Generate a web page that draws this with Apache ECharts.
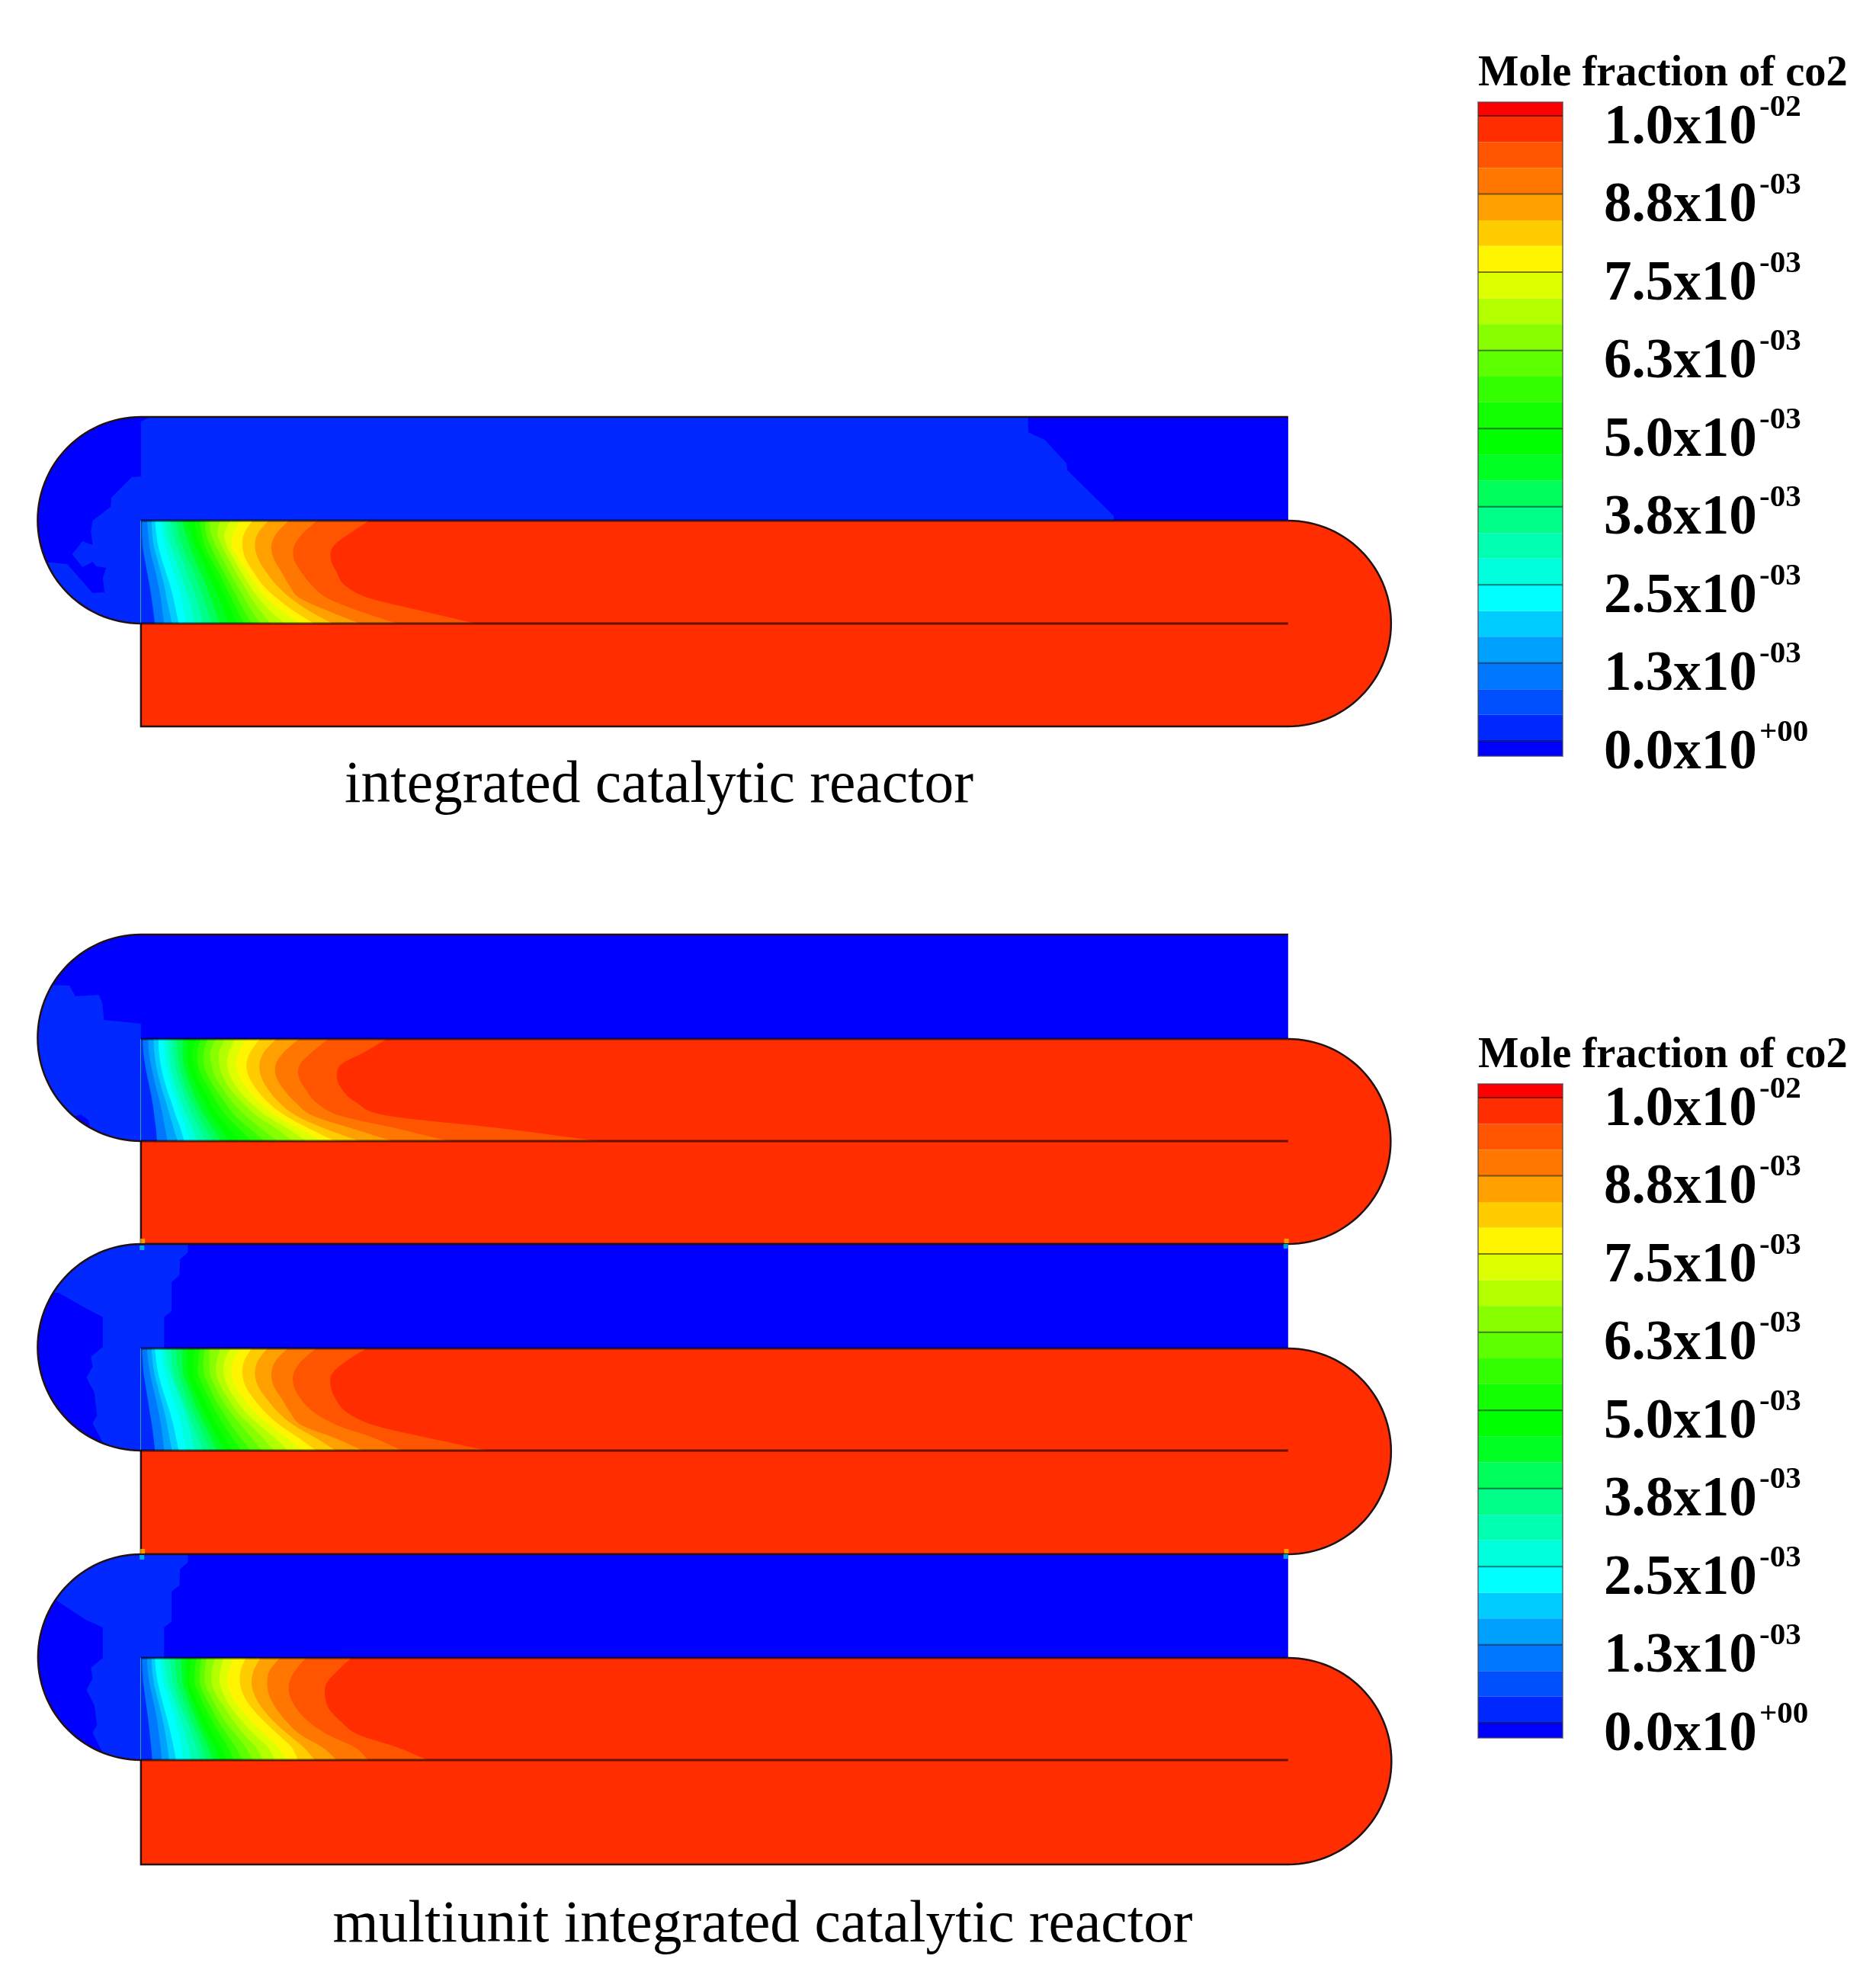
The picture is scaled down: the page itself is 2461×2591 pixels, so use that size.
<!DOCTYPE html>
<html>
<head>
<meta charset="utf-8">
<title>Mole fraction of co2</title>
<style>
  html, body { margin: 0; padding: 0; background: #fff; }
  #main { width: 2461px; height: 2591px; }
</style>
<script src="https://cdn.jsdelivr.net/npm/echarts@6/dist/echarts.min.js"></script>
</head>
<body>
<div id="main"></div>
<script>
// colour levels of the legend, top to bottom
var legendColors = ['#ff0000', '#ff2d00', '#ff5500', '#ff7700', '#ffa000', '#ffcc00', '#fff500', '#ddff00', '#b3ff00',
  '#88ff00', '#5eff00', '#33ff00', '#11ff00', '#00ff00', '#00ff22', '#00ff5a', '#00ff88', '#00ffb0', '#00ffdd',
  '#00ffff', '#00ccff', '#00a0ff', '#0077ff', '#0050ff', '#0028ff', '#0000ff'];
var legendEdges = [10.22, 10, 9.58, 9.17, 8.75, 8.33, 7.92, 7.5, 7.08, 6.67, 6.25, 5.83, 5.42, 5, 4.58, 4.17, 3.75,
  3.33, 2.92, 2.5, 2.08, 1.67, 1.25, 0.83, 0.42, 0, -0.24];
var tickValues = [10, 8.75, 7.5, 6.25, 5, 3.75, 2.5, 1.25, 0];
var tickBase = ['1.0x10', '8.8x10', '7.5x10', '6.3x10', '5.0x10', '3.8x10', '2.5x10', '1.3x10', '0.0x10'];
var tickExp = ['-02', '-03', '-03', '-03', '-03', '-03', '-03', '-03', '+00'];
var legendTitle = 'Mole fraction of co2';

// reactor walls along the vertical axis, one entry per unit
var unitTop = [547, 1226, 1632, 2039];
var unitMid1 = [683, 1363, 1769, 2175];
var unitMid2 = [818, 1497, 1903, 2309];
var unitBottom = [953, 1632, 2039, 2446];
var channelStart = 347;
var channelEnd = 3718;
var upperBase = [24, 25, 25, 25];

// contour fronts in the reacting channel: x at these fractions of the channel height
var frontFractions = [0, 0.125, 0.25, 0.375, 0.5, 0.625, 0.75, 0.875, 1];
// level painted to the left of each front, lowest front first
var frontLevels = [24, 22, 21, 20, 19, 18, 17, 16, 15, 14, 13, 12, 11, 10, 9, 8, 7, 6, 5, 4, 3, 2];
var frontsUnit1 = [
  [350, 350, 352, 358, 365, 372, 378, 383, 388],
  [365, 368, 372, 380, 390, 398, 405, 410, 415],
  [378, 380, 385, 395, 405, 415, 422, 430, 438],
  [388, 392, 398, 408, 420, 432, 442, 450, 458],
  [405, 410, 418, 430, 442, 455, 465, 473, 480],
  [418, 425, 435, 448, 462, 475, 487, 497, 505],
  [435, 442, 452, 468, 482, 495, 510, 520, 530],
  [450, 458, 470, 485, 502, 517, 530, 543, 555],
  [468, 478, 490, 505, 522, 538, 552, 565, 578],
  [482, 495, 508, 525, 542, 558, 575, 590, 602],
  [505, 510, 522, 540, 558, 578, 595, 612, 628],
  [520, 525, 535, 553, 575, 593, 612, 630, 650],
  [535, 538, 552, 570, 590, 610, 630, 650, 672],
  [548, 553, 568, 587, 607, 628, 650, 672, 698],
  [580, 572, 585, 605, 625, 648, 670, 697, 728],
  [610, 592, 600, 620, 642, 665, 692, 725, 770],
  [640, 618, 615, 635, 660, 685, 715, 760, 815],
  [675, 650, 645, 655, 678, 705, 745, 795, 855],
  [722, 690, 682, 692, 715, 745, 785, 840, 910],
  [782, 745, 730, 738, 760, 782, 812, 895, 990],
  [865, 822, 797, 797, 818, 848, 893, 985, 1100],
  [1018, 960, 912, 905, 922, 945, 1015, 1170, 1330]
];
var frontsUnit2 = [
  [352, 354, 359, 366, 374, 381, 386, 391, 394],
  [368, 370, 376, 384, 393, 403, 411, 418, 425],
  [384, 386, 391, 399, 409, 421, 432, 443, 455],
  [398, 400, 405, 413, 424, 437, 449, 463, 474],
  [414, 416, 421, 429, 439, 453, 466, 480, 491],
  [425, 429, 433, 441, 453, 466, 481, 498, 514],
  [440, 442, 447, 455, 469, 483, 499, 518, 537],
  [451, 455, 459, 469, 482, 498, 517, 537, 560],
  [469, 469, 472, 483, 497, 514, 535, 558, 583],
  [486, 482, 486, 497, 514, 534, 554, 581, 608],
  [509, 497, 501, 512, 531, 551, 575, 606, 638],
  [523, 512, 514, 528, 549, 571, 597, 634, 674],
  [543, 531, 531, 546, 568, 594, 623, 665, 711],
  [566, 551, 554, 566, 589, 617, 654, 699, 749],
  [594, 577, 577, 589, 611, 646, 686, 743, 794],
  [623, 606, 600, 611, 634, 669, 714, 777, 834],
  [657, 634, 626, 637, 661, 697, 743, 811, 880],
  [697, 669, 657, 665, 688, 722, 771, 840, 917],
  [745, 709, 695, 701, 722, 754, 803, 886, 989],
  [811, 768, 743, 745, 768, 802, 851, 966, 1086],
  [897, 851, 814, 811, 832, 863, 931, 1097, 1251],
  [1069, 1006, 935, 923, 939, 981, 1069, 1406, 1690]
];
var frontsUnit3 = [
  [350, 352, 355, 361, 367, 373, 379, 384, 388],
  [365, 368, 374, 382, 391, 399, 406, 411, 415],
  [378, 381, 387, 396, 406, 416, 424, 431, 438],
  [388, 392, 398, 408, 420, 432, 442, 450, 458],
  [405, 410, 418, 430, 442, 455, 465, 473, 480],
  [418, 425, 435, 448, 462, 475, 487, 497, 505],
  [435, 437, 443, 455, 470, 485, 500, 515, 530],
  [450, 452, 458, 470, 484, 500, 518, 534, 550],
  [468, 468, 472, 485, 500, 516, 535, 553, 570],
  [482, 482, 485, 498, 515, 532, 552, 572, 592],
  [505, 500, 500, 515, 532, 550, 570, 592, 615],
  [520, 515, 516, 530, 548, 568, 590, 615, 642],
  [535, 530, 532, 548, 565, 588, 612, 640, 670],
  [548, 548, 550, 565, 585, 610, 640, 672, 702],
  [580, 570, 568, 582, 605, 630, 668, 705, 738],
  [610, 592, 590, 602, 625, 655, 695, 740, 780],
  [640, 618, 612, 625, 650, 682, 725, 775, 822],
  [672, 650, 645, 655, 680, 712, 755, 810, 862],
  [718, 690, 682, 692, 718, 750, 795, 860, 920],
  [778, 742, 730, 738, 762, 785, 818, 915, 1000],
  [862, 818, 795, 797, 818, 855, 922, 1030, 1115],
  [1010, 950, 908, 905, 920, 952, 1030, 1190, 1365]
];
var frontsUnit4 = [
  [350, 351, 354, 359, 364, 369, 373, 377, 380],
  [365, 367, 372, 380, 388, 395, 400, 405, 408],
  [378, 380, 385, 394, 403, 412, 419, 425, 430],
  [388, 391, 397, 406, 416, 426, 435, 443, 450],
  [402, 407, 413, 426, 438, 449, 458, 466, 472],
  [415, 420, 428, 440, 454, 466, 478, 488, 495],
  [432, 436, 442, 454, 468, 483, 497, 510, 520],
  [448, 450, 455, 468, 482, 497, 512, 527, 538],
  [465, 467, 470, 482, 497, 512, 528, 545, 558],
  [478, 480, 482, 493, 510, 525, 543, 563, 578],
  [497, 490, 490, 505, 522, 540, 560, 582, 598],
  [510, 505, 505, 520, 538, 558, 580, 602, 620],
  [525, 520, 520, 535, 555, 575, 600, 625, 645],
  [540, 535, 535, 552, 572, 595, 625, 655, 675],
  [565, 555, 555, 570, 595, 620, 650, 685, 705],
  [590, 580, 578, 592, 615, 645, 680, 720, 740],
  [620, 605, 600, 615, 640, 672, 712, 750, 775],
  [655, 640, 638, 650, 675, 710, 750, 790, 808],
  [698, 678, 672, 682, 705, 738, 780, 825, 858],
  [755, 725, 718, 725, 745, 775, 815, 880, 922],
  [832, 800, 782, 785, 805, 840, 895, 975, 1015],
  [965, 925, 892, 888, 900, 935, 985, 1100, 1190]
];
var unitFronts = [frontsUnit1, frontsUnit2, frontsUnit3, frontsUnit4];

// patches of the two lowest levels in the upper channel and the left bend: [x, y] outlines
var patchesUnit1 = [
  { level: 25, outline: [[370, 548], [347, 553], [347, 625], [320, 626], [260, 653], [258, 665], [205, 683], [200, 697],
    [205, 715], [175, 710], [145, 727], [175, 744], [205, 737], [215, 743], [245, 745], [235, 758], [240, 777], [205, 778],
    [130, 740], [85, 738], [0, 738], [0, 548]] },
  { level: 25, outline: [[2954, 548], [2954, 567], [3003, 577], [3067, 608], [3069, 617], [3206, 677], [3206, 684], [3718, 684], [3718, 548]] }
];
var patchesUnit2 = [
  { level: 24, outline: [[69, 1292], [137, 1293], [154, 1307], [223, 1305], [234, 1317], [238, 1338], [347, 1343], [347, 1500], [0, 1500], [0, 1292]] },
  { level: 25, outline: [[149, 1465], [171, 1462], [194, 1470], [197, 1480], [149, 1473]] }
];
var patchesUnit3 = [
  { level: 24, outline: [[485, 1633], [485, 1643], [462, 1652], [460, 1673], [437, 1682], [437, 1720], [415, 1728], [415, 1769], [347, 1769], [347, 1903], [0, 1903], [0, 1633]] },
  { level: 25, outline: [[105, 1696], [180, 1715], [235, 1728], [235, 1767], [200, 1780], [205, 1793], [187, 1807], [210, 1827],
    [218, 1857], [205, 1867], [235, 1893], [260, 1910], [0, 1910], [0, 1696]] }
];
var patchesUnit4 = [
  { level: 24, outline: [[485, 2040], [485, 2050], [462, 2058], [460, 2080], [437, 2088], [437, 2127], [415, 2135], [415, 2175], [347, 2175], [347, 2310], [0, 2310], [0, 2040]] },
  { level: 25, outline: [[100, 2100], [185, 2125], [235, 2135], [235, 2175], [200, 2188], [205, 2202], [187, 2217], [210, 2237],
    [218, 2263], [205, 2273], [235, 2300], [260, 2313], [0, 2313], [0, 2100]] }
];
var unitPatches = [patchesUnit1, patchesUnit2, patchesUnit3, patchesUnit4];

// small specks where the units touch
var spotsWarm = [[352, 1628], [3713, 1628], [352, 2035], [3713, 2035]];
var spotsCool = [[350, 1637], [3711, 1635], [350, 2043], [3711, 2042]];

var captions = [
  { text: 'integrated catalytic reactor', x: 452 * 2.24 - 67.2, base: 1053 },
  { text: 'multiunit integrated catalytic reactor', x: 436.5 * 2.24 - 67.2, base: 2548 }
];

var SERIF = '"Liberation Serif", "Times New Roman", serif';

// text placed by its baseline (zrender has no alphabetic alignment here)
function baseText(x, base, text, size, bold) {
  return {
    type: 'text',
    style: {
      x: x, y: base - size * 0.27, text: text, fill: '#000',
      font: (bold ? 'bold ' : '') + size + 'px ' + SERIF,
      textAlign: 'left', textVerticalAlign: 'middle'
    }
  };
}

// catmull-rom through the read points so the fronts look like contours
function smoothLine(pts) {
  var out = [];
  for (var i = 0; i < pts.length - 1; i++) {
    var p0 = pts[Math.max(i - 1, 0)], p1 = pts[i], p2 = pts[i + 1], p3 = pts[Math.min(i + 2, pts.length - 1)];
    for (var s = 0; s < 8; s++) {
      var t = s / 8, t2 = t * t, t3 = t2 * t;
      out.push([
        0.5 * (2 * p1[0] + (p2[0] - p0[0]) * t + (2 * p0[0] - 5 * p1[0] + 4 * p2[0] - p3[0]) * t2 + (3 * p1[0] - p0[0] - 3 * p2[0] + p3[0]) * t3),
        0.5 * (2 * p1[1] + (p2[1] - p0[1]) * t + (2 * p0[1] - 5 * p1[1] + 4 * p2[1] - p3[1]) * t2 + (3 * p1[1] - p0[1] - 3 * p2[1] + p3[1]) * t3)
      ]);
    }
  }
  out.push(pts[pts.length - 1]);
  return out;
}

// half circle between two wall points, dir -1 bulges left, +1 right
function halfCircle(cx, yFrom, yTo, dir) {
  var r = Math.abs(yTo - yFrom) / 2, cy = (yFrom + yTo) / 2, pts = [];
  for (var i = 0; i <= 60; i++) {
    var a = Math.PI * i / 60;
    pts.push([cx + dir * r * Math.sin(a), cy + (yFrom < yTo ? -1 : 1) * r * Math.cos(a)]);
  }
  return pts;
}

function renderUnit(params, api) {
  var u = params.dataIndex;
  var xa = api.coord([channelStart, 0])[0], xb = api.coord([channelEnd, 0])[0];
  var top = api.coord([0, unitTop[u]])[1], m1 = api.coord([0, unitMid1[u]])[1];
  var m2 = api.coord([0, unitMid2[u]])[1], bot = api.coord([0, unitBottom[u]])[1];
  var kids = [];

  var leftArc = halfCircle(xa, top, m2, -1);
  var rightArc = halfCircle(xb, m1, bot, 1);
  var upperShape = [[xb, top]].concat(leftArc, [[xa, m1], [xb, m1]]);
  var lowerShape = [[xa, bot]].concat(rightArc.slice().reverse(), [[xa, m1], [xa, bot]]);

  kids.push({ type: 'polygon', shape: { points: lowerShape }, style: { fill: legendColors[1] } });
  kids.push({ type: 'rect', shape: { x: xa, y: m1, width: xb - xa, height: bot - m1 }, style: { fill: legendColors[1] } });
  kids.push({ type: 'polygon', shape: { points: upperShape }, style: { fill: legendColors[upperBase[u]] } });

  unitPatches[u].forEach(function (p) {
    kids.push({
      type: 'polygon',
      shape: { points: p.outline.map(function (q) { return api.coord(q); }) },
      style: { fill: legendColors[p.level] },
      clipPath: { type: 'polygon', shape: { points: upperShape } }
    });
  });

  // highest front first, lower levels paint over it
  var rows = unitFronts[u];
  for (var k = rows.length - 1; k >= 0; k--) {
    var pts = rows[k].map(function (x, j) {
      return [api.coord([x, 0])[0], m1 + (m2 - m1) * frontFractions[j]];
    });
    kids.push({
      type: 'polygon',
      shape: { points: [[xa, m1]].concat(smoothLine(pts), [[xa, m2]]) },
      style: { fill: legendColors[frontLevels[k]] }
    });
  }

  // walls
  var wall = { stroke: '#241010', lineWidth: 2.5, fill: null };
  kids.push({ type: 'polyline', shape: { points: [[xb, top]].concat(leftArc) }, style: wall });
  kids.push({ type: 'polyline', shape: { points: rightArc.concat([[xa, bot], [xa, m2]]) }, style: wall });
  var inner = { stroke: 'rgba(0,0,0,0.6)', lineWidth: 3, fill: null };
  kids.push({ type: 'line', shape: { x1: xa, y1: m1, x2: xb, y2: m1 }, style: inner });
  kids.push({ type: 'line', shape: { x1: xa, y1: m2, x2: xb, y2: m2 }, style: inner });
  return { type: 'group', children: kids };
}

function renderLegend(params, api) {
  var kids = [];
  var ox = api.coord([0, 0])[0], rx = api.coord([1, 0])[0];
  for (var i = 0; i < legendColors.length; i++) {
    var hi = api.coord([0, legendEdges[i]])[1], lo = api.coord([0, legendEdges[i + 1]])[1];
    kids.push({ type: 'rect', shape: { x: ox, y: hi, width: rx - ox, height: lo - hi }, style: { fill: legendColors[i] } });
  }
  tickValues.forEach(function (v, j) {
    var y = api.coord([0, v])[1];
    kids.push({ type: 'line', shape: { x1: ox, y1: y, x2: rx, y2: y }, style: { stroke: 'rgba(0,0,0,0.5)', lineWidth: 2 } });
    kids.push(baseText(rx + 54, y + 36.5, tickBase[j], 73, true));
    kids.push(baseText(rx + 258, y, tickExp[j], 41, true));
  });
  var t = api.coord([0, legendEdges[0]])[1], b = api.coord([0, legendEdges[legendEdges.length - 1]])[1];
  kids.push({
    type: 'rect', shape: { x: ox, y: t, width: rx - ox, height: b - t },
    style: { fill: null, stroke: 'rgba(70,70,70,0.6)', lineWidth: 2 }
  });
  kids.push(baseText(ox, t - 21, legendTitle, 56.5, true));
  return { type: 'group', children: kids };
}

function renderCaption(params, api) {
  var c = captions[params.dataIndex];
  var p = api.coord([c.x, c.base]);
  return baseText(p[0], p[1], c.text, 77.4, false);
}

var chart = echarts.init(document.getElementById('main'), null, { renderer: 'canvas' });

function hiddenX(i, min, max) {
  return { type: 'value', gridIndex: i, min: min, max: max, show: false };
}
function hiddenY(i, min, max, inverse) {
  return { type: 'value', gridIndex: i, min: min, max: max, inverse: inverse, show: false };
}

chart.setOption({
  animation: false,
  backgroundColor: '#fff',
  grid: [
    { left: 0, right: 0, top: 0, bottom: 0 },
    { left: 1939, width: 111, top: 134, height: 858 },
    { left: 1939, width: 111, top: 1422, height: 858 }
  ],
  xAxis: [hiddenX(0, -67.2, 5445.44), hiddenX(1, 0, 1), hiddenX(2, 0, 1)],
  yAxis: [hiddenY(0, 0, 2591, true), hiddenY(1, -0.24, 10.22, false), hiddenY(2, -0.24, 10.22, false)],
  series: [
    { type: 'custom', xAxisIndex: 0, yAxisIndex: 0, silent: true, clip: false, data: [0, 1, 2, 3], renderItem: renderUnit },
    { type: 'scatter', xAxisIndex: 0, yAxisIndex: 0, silent: true, symbol: 'rect', symbolSize: 6, itemStyle: { color: '#ffb400' }, data: spotsWarm },
    { type: 'scatter', xAxisIndex: 0, yAxisIndex: 0, silent: true, symbol: 'rect', symbolSize: 6, itemStyle: { color: '#00c8e0' }, data: spotsCool },
    { type: 'custom', xAxisIndex: 1, yAxisIndex: 1, silent: true, clip: false, data: [0], renderItem: renderLegend },
    { type: 'custom', xAxisIndex: 2, yAxisIndex: 2, silent: true, clip: false, data: [0], renderItem: renderLegend },
    { type: 'custom', xAxisIndex: 0, yAxisIndex: 0, silent: true, clip: false, data: [0, 1], renderItem: renderCaption }
  ]
});
</script>
</body>
</html>
